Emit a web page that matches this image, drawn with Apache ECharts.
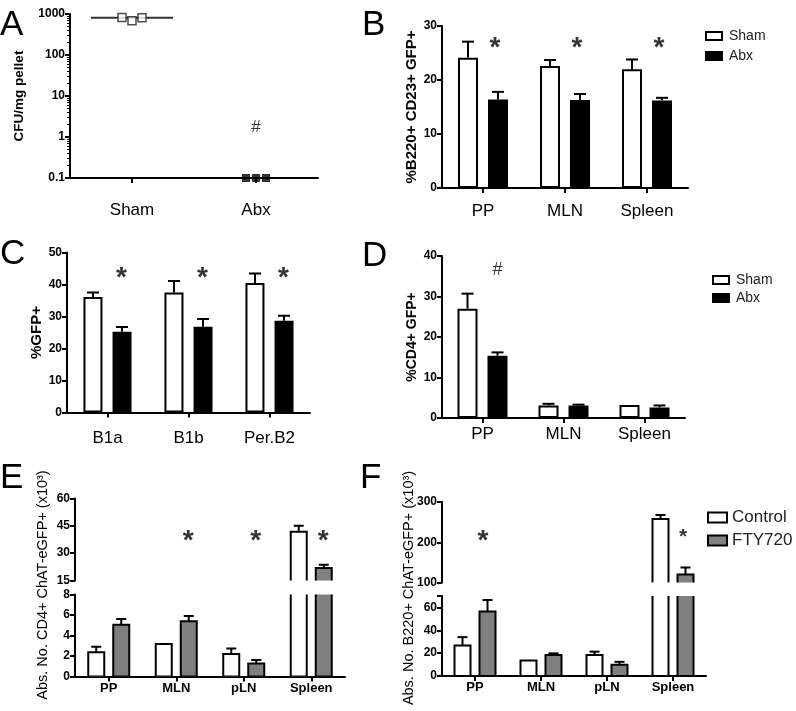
<!DOCTYPE html>
<html><head><meta charset="utf-8">
<script src="https://cdn.jsdelivr.net/npm/echarts@6/dist/echarts.min.js"></script>
<style>html,body{margin:0;padding:0;background:#fff}#c{width:796px;height:711px}</style>
</head><body><div id="c"></div>
<script>
// ================= DATA =================
// Panel A (log scale, CFU/mg pellet)
const aCategories = ['Sham', 'Abx'];
const aSham = [822, 682, 815];
const aAbx = [0.1, 0.1, 0.1];
const aMedian = [815, 0.1];
const aHashLevel = 1.75;

// Panel B (%B220+ CD23+ GFP+)
const bCategories = ['PP', 'MLN', 'Spleen'];
const bSham = [24.1, 22.6, 22.0];
const bShamErr = [3.0, 1.1, 1.8];
const bAbx = [16.4, 16.3, 16.2];
const bAbxErr = [1.4, 1.1, 0.5];
const bStarLevel = [26.9, 26.9, 26.9];

// Panel C (%GFP+)
const cCategories = ['B1a', 'B1b', 'Per.B2'];
const cSham = [36.1, 37.5, 40.5];
const cShamErr = [1.4, 3.6, 2.9];
const cAbx = [25.2, 26.8, 28.7];
const cAbxErr = [1.5, 2.4, 1.5];
const cStarLevel = [43.9, 43.9, 43.9];

// Panel D (%CD4+ GFP+)
const dCategories = ['PP', 'MLN', 'Spleen'];
const dSham = [27.0, 3.1, 3.2];
const dShamErr = [3.7, 0.4, 0];
const dAbx = [15.4, 3.1, 2.6];
const dAbxErr = [0.8, 0.2, 0.5];
const dHashLevel = [36.5];

// Panels E / F
const efCategories = ['PP', 'MLN', 'pLN', 'Spleen'];
const eControl = [2.37, 3.17, 2.2, 41.8];
const eControlErr = [0.53, 0, 0.52, 3.3];
const eFTY = [5.05, 5.38, 1.26, 21.8];
const eFTYErr = [0.55, 0.52, 0.36, 1.8];
const eStarCats = [1, 2, 3];
const eStarLevel = [40, 40, 40];

const fControl = [26.6, 13.5, 18.3, 257.5];
const fControlErr = [7.4, 0, 3.0, 10.5];
const fFTY = [56.5, 18.3, 9.75, 120];
const fFTYErr = [10, 1.5, 2.65, 17.5];
const fStarCats = [0, 3];
const fStarLevel = [218, 223];

// ================= STYLE / BUILD =================
const FONT = "'Liberation Sans', Arial, Helvetica, sans-serif";
const BLACK = '#000';
const GRAY = '#808080';
const jitterPx = [-10, 0, 10];

const grids = [
  {left: 70, top: 14, width: 248, height: 164},    // 0 A
  {left: 442, top: 26, width: 246, height: 162},   // 1 B
  {left: 67, top: 252.5, width: 243, height: 160}, // 2 C
  {left: 442, top: 256, width: 243, height: 162},  // 3 D
  {left: 75, top: 498.5, width: 270, height: 82},  // 4 E upper
  {left: 75, top: 594.5, width: 270, height: 82},  // 5 E lower
  {left: 442, top: 502, width: 264, height: 80.5}, // 6 F upper
  {left: 442, top: 596, width: 264, height: 80}    // 7 F lower
].map(g => Object.assign({outerBoundsMode: 'none', containLabel: false}, g));

const axisLine = {show: true, lineStyle: {color: BLACK, width: 2}};
const axisTick = {show: true, length: 5, lineStyle: {color: BLACK, width: 2}};

function yAx(gi, extra, labelExtra) {
  return Object.assign({
    type: 'value', gridIndex: gi, axisLine, axisTick,
    splitLine: {show: false},
    axisLabel: Object.assign({color: BLACK, fontFamily: FONT, fontWeight: 'bold', fontSize: 12, margin: 5}, labelExtra || {}),
    nameLocation: 'middle', nameRotate: 90,
    nameTextStyle: {color: BLACK, fontFamily: FONT, fontWeight: 'bold', fontSize: 14}
  }, extra);
}
function xAx(gi, cats, labelExtra, extra) {
  return Object.assign({
    type: 'category', gridIndex: gi, data: cats, boundaryGap: true,
    axisLine, axisTick: Object.assign({alignWithLabel: true}, axisTick),
    splitLine: {show: false},
    axisLabel: Object.assign({color: BLACK, fontFamily: FONT, fontSize: 17, margin: 16, interval: 0}, labelExtra || {})
  }, extra || {});
}

const xAxis = [
  xAx(0, aCategories, {margin: 24}),
  xAx(1, bCategories, {margin: 15}),
  xAx(2, cCategories, {margin: 17}),
  xAx(3, dCategories, {margin: 8}),
  xAx(4, efCategories, {}, {show: false}),
  xAx(5, efCategories, {fontWeight: 'bold', fontSize: 13, margin: 5}),
  xAx(6, efCategories, {}, {show: false}),
  xAx(7, efCategories, {fontWeight: 'bold', fontSize: 13, margin: 5})
];

const yAxis = [
  yAx(0, {type: 'log', logBase: 10, min: 0.1, max: 1000, name: 'CFU/mg pellet', nameGap: 44,
          nameTextStyle: {color: BLACK, fontFamily: FONT, fontWeight: 'bold', fontSize: 13.5},
          minorTick: {show: true, splitNumber: 9, length: 3, lineStyle: {color: BLACK, width: 1}}},
      {formatter: v => String(v)}),
  yAx(1, {min: 0, max: 30, interval: 10, name: '%B220+ CD23+ GFP+', nameGap: 22,
          nameTextStyle: {color: BLACK, fontFamily: FONT, fontWeight: 'bold', fontSize: 15}}),
  yAx(2, {min: 0, max: 50, interval: 10, name: '%GFP+', nameGap: 22,
          nameTextStyle: {color: BLACK, fontFamily: FONT, fontWeight: 'bold', fontSize: 15}}),
  yAx(3, {min: 0, max: 40, interval: 10, name: '%CD4+ GFP+', nameGap: 23}),
  yAx(4, {min: 15, max: 60, interval: 15}),
  yAx(5, {min: 0, max: 8, interval: 2}),
  yAx(6, {min: 100, max: 300, interval: 100}),
  yAx(7, {min: 0, max: 70, interval: 20}, {formatter: v => (v > 60 ? '' : String(v))})
];

function errRender(dx, cap) {
  return function (params, api) {
    const i = api.value(0), lo = api.value(1), hi = api.value(2);
    if (!(hi > lo)) return null;
    const p0 = api.coord([i, lo]);
    const p1 = api.coord([i, hi]);
    const x = p0[0] + dx;
    const st = {stroke: BLACK, lineWidth: 2, fill: null};
    return {type: 'group', children: [
      {type: 'line', shape: {x1: x, y1: p0[1], x2: x, y2: p1[1]}, style: st},
      {type: 'line', shape: {x1: x - cap / 2, y1: p1[1], x2: x + cap / 2, y2: p1[1]}, style: st}
    ]};
  };
}
function errSeries(gi, vals, errs, dx, cap) {
  return {type: 'custom', xAxisIndex: gi, yAxisIndex: gi, silent: true, clip: true, z: 5,
    renderItem: errRender(dx, cap), encode: {x: 0, y: [1, 2]},
    data: vals.map((v, i) => [i, v, v + errs[i]])};
}
function barRender(dx, w, fill) {
  return function (params, api) {
    const i = api.value(0), v = api.value(1);
    const base = api.coord([i, 0]);
    const top = api.coord([i, v]);
    return {type: 'rect', shape: {x: base[0] + dx - w / 2, y: top[1], width: w, height: base[1] - top[1]},
      style: {fill: fill, stroke: BLACK, lineWidth: 2}};
  };
}
function cBarSeries(gi, name, vals, dx, fill) {
  return {type: 'custom', name, xAxisIndex: gi, yAxisIndex: gi, clip: true, z: 3,
    itemStyle: {color: fill, borderColor: BLACK, borderWidth: 2},
    renderItem: barRender(dx, 16, fill), encode: {x: 0, y: 1},
    data: vals.map((v, i) => [i, v])};
}
function barSeries(gi, name, vals, fill, w, gap) {
  return {type: 'bar', name, xAxisIndex: gi, yAxisIndex: gi, data: vals, barWidth: w, barGap: gap,
    itemStyle: {color: fill, borderColor: BLACK, borderWidth: 2}, z: 3};
}
function markSeries(gi, cats, levels, text, fontSize, dx, dy, weight) {
  return {type: 'scatter', xAxisIndex: gi, yAxisIndex: gi, silent: true, symbolSize: 1, z: 6,
    itemStyle: {color: 'rgba(0,0,0,0)'},
    data: levels.map((v, k) => [cats[k], v]),
    label: {show: true, position: 'inside', formatter: text, color: BLACK, fontFamily: FONT,
      fontSize, fontWeight: weight || 'normal', offset: [dx, dy]}};
}

const series = [
  // ---- A ----
  {type: 'scatter', xAxisIndex: 0, yAxisIndex: 0, silent: true, symbol: 'rect', symbolSize: [82, 2], z: 2,
   itemStyle: {color: BLACK}, data: aMedian.map((v, i) => [i, v])},
  {type: 'scatter', xAxisIndex: 0, yAxisIndex: 0, symbol: 'rect', symbolSize: 8, z: 4,
   itemStyle: {color: '#fff', borderColor: '#222', borderWidth: 1.5},
   data: aSham.map((v, k) => ({value: [0, v], symbolOffset: [jitterPx[k], 0]}))},
  {type: 'scatter', xAxisIndex: 0, yAxisIndex: 0, symbol: 'rect', symbolSize: 8, z: 4,
   itemStyle: {color: BLACK}, data: aAbx.map((v, k) => ({value: [1, v], symbolOffset: [jitterPx[k], 0]}))},
  markSeries(0, [1], [aHashLevel], '#', 17, 0, 0),
  // ---- B ----
  barSeries(1, 'Sham', bSham, '#fff', 20, '50%'),
  barSeries(1, 'Abx', bAbx, BLACK, 20, '50%'),
  errSeries(1, bSham, bShamErr, -15, 12),
  errSeries(1, bAbx, bAbxErr, 15, 12),
  markSeries(1, [0, 1, 2], bStarLevel, '*', 28, 12, 6, 'bold'),
  // ---- C ----
  barSeries(2, 'Sham', cSham, '#fff', 19, '53%'),
  barSeries(2, 'Abx', cAbx, BLACK, 19, '53%'),
  errSeries(2, cSham, cShamErr, -14.5, 12),
  errSeries(2, cAbx, cAbxErr, 14.5, 12),
  markSeries(2, [0, 1, 2], cStarLevel, '*', 28, 14, 6, 'bold'),
  // ---- D ----
  barSeries(3, 'Sham', dSham, '#fff', 20, '50%'),
  barSeries(3, 'Abx', dAbx, BLACK, 20, '50%'),
  errSeries(3, dSham, dShamErr, -15, 12),
  errSeries(3, dAbx, dAbxErr, 15, 12),
  markSeries(3, [0], dHashLevel, '#', 18, 15, 0),
  // ---- E ----
  cBarSeries(4, 'Control', eControl, -12.5, '#fff'),
  cBarSeries(4, 'FTY720', eFTY, 12.5, GRAY),
  cBarSeries(5, 'Control', eControl, -12.5, '#fff'),
  cBarSeries(5, 'FTY720', eFTY, 12.5, GRAY),
  errSeries(4, eControl, eControlErr, -12.5, 10),
  errSeries(4, eFTY, eFTYErr, 12.5, 10),
  errSeries(5, eControl, eControlErr, -12.5, 10),
  errSeries(5, eFTY, eFTYErr, 12.5, 10),
  markSeries(4, eStarCats, eStarLevel, '*', 28, 12, 6, 'bold'),
  // ---- F ----
  cBarSeries(6, 'Control', fControl, -12.5, '#fff'),
  cBarSeries(6, 'FTY720', fFTY, 12.5, GRAY),
  cBarSeries(7, 'Control', fControl, -12.5, '#fff'),
  cBarSeries(7, 'FTY720', fFTY, 12.5, GRAY),
  errSeries(6, fControl, fControlErr, -12.5, 10),
  errSeries(6, fFTY, fFTYErr, 12.5, 10),
  errSeries(7, fControl, fControlErr, -12.5, 10),
  errSeries(7, fFTY, fFTYErr, 12.5, 10),
  markSeries(6, [fStarCats[0]], [fStarLevel[0]], '*', 28, 8, 6, 'bold'),
  markSeries(6, [fStarCats[1]], [fStarLevel[1]], '*', 21, 10, 4, 'bold')
];

const legendText = {color: '#222', fontFamily: FONT};
const legend = [
  {orient: 'vertical', left: 705, top: 29, padding: 0, itemWidth: 16, itemHeight: 8, itemGap: 6, icon: 'rect',
   textStyle: Object.assign({fontSize: 14, padding: [0, 0, 0, 2]}, legendText), selectedMode: false,
   data: [{name: 'Sham', itemStyle: {color: '#fff', borderColor: BLACK, borderWidth: 2}},
          {name: 'Abx', itemStyle: {color: BLACK, borderColor: BLACK, borderWidth: 2}}]},
  {orient: 'vertical', left: 712, top: 273, padding: 0, itemWidth: 16, itemHeight: 8, itemGap: 4, icon: 'rect',
   textStyle: Object.assign({fontSize: 14, padding: [0, 0, 0, 2]}, legendText), selectedMode: false,
   data: [{name: 'Sham', itemStyle: {color: '#fff', borderColor: BLACK, borderWidth: 2}},
          {name: 'Abx', itemStyle: {color: BLACK, borderColor: BLACK, borderWidth: 2}}]},
  {orient: 'vertical', left: 707, top: 509, padding: 0, itemWidth: 19, itemHeight: 10, itemGap: 6, icon: 'rect',
   textStyle: Object.assign({fontSize: 17}, legendText), selectedMode: false,
   data: [{name: 'Control', itemStyle: {color: '#fff', borderColor: BLACK, borderWidth: 2}},
          {name: 'FTY720', itemStyle: {color: GRAY, borderColor: BLACK, borderWidth: 2}}]}
];

const letterStyle = {fontSize: 35, fontWeight: 'normal', color: BLACK, fontFamily: FONT};
const title = [
  ['A', 0, 8], ['B', 362, 8], ['C', 0, 237], ['D', 362, 239], ['E', 0, 461], ['F', 360, 461]
].map(([t, l, tp]) => ({text: t, left: l, top: tp, padding: 0, textStyle: letterStyle}));

const graphic = [
  {type: 'text', x: 43, y: 585, rotation: Math.PI / 2,
   style: {text: 'Abs. No. CD4+ ChAT-eGFP+ (x10³)', fontFamily: FONT, fontSize: 14.5, fill: BLACK, align: 'center', verticalAlign: 'middle'}},
  {type: 'text', x: 409, y: 588, rotation: Math.PI / 2,
   style: {text: 'Abs. No. B220+ ChAT-eGFP+ (x10³)', fontFamily: FONT, fontSize: 14.5, fill: BLACK, align: 'center', verticalAlign: 'middle'}}
];

const chart = echarts.init(document.getElementById('c'), null, {renderer: 'canvas'});
chart.setOption({
  animation: false,
  backgroundColor: '#fff',
  textStyle: {fontFamily: FONT},
  title, legend, grid: grids, xAxis, yAxis, series, graphic
});
</script></body></html>
